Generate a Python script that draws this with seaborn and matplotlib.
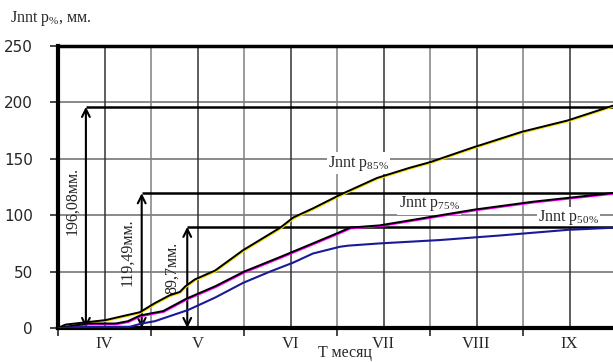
import matplotlib
matplotlib.use("Agg")
import matplotlib.pyplot as plt
import matplotlib.transforms as mtransforms
import seaborn as sns

# month fractions from start of April
p85_x = [0, 0.08, 0.29, 0.51, 0.72, 0.88, 1.04, 1.20, 1.31, 1.37, 1.47, 1.69, 1.99, 2.17,
         2.39, 2.53, 2.74, 3.03, 3.43, 3.78, 4.00, 4.46, 4.99, 5.48, 6.0]
p85_y = [0, 3, 5, 7, 11, 14, 22, 29, 32, 37, 43, 51, 69, 78,
         89, 98, 106, 118, 133, 142, 147, 160, 174, 184, 198]

p75_x = [0, 0.08, 0.32, 0.62, 0.75, 0.88, 1.00, 1.13, 1.38, 1.69, 2.00, 2.39, 2.74, 3.03,
         3.14, 3.46, 3.97, 4.48, 5.11, 6.0]
p75_y = [0, 1, 4, 4, 6, 11, 13, 15, 26, 37, 50, 63, 75, 85,
         89, 91, 98, 105, 112, 120]

p50_x = [0, 0.32, 0.77, 0.90, 1.04, 1.40, 1.69, 1.99, 2.28, 2.53, 2.74, 3.03, 3.12, 3.46,
         4.11, 4.75, 5.48, 6.0]
p50_y = [0, 1, 1, 4, 6, 16, 27, 40, 50, 58, 66, 72, 73, 75,
         78, 82, 87, 89]

months = ["IV", "V", "VI", "VII", "VIII", "IX"]
yticks = [0, 50, 100, 150, 200, 250]

# marked totals: (value, arrow x, label, label x, label y)
marks = [(196.08, 0.30, "196,08мм.", 0.15, 113),
         (119.49, 0.90, "119,49мм.", 0.75, 67),
         (89.7, 1.39, "89,7мм.", 1.23, 53)]

sns.set_style("white")
plt.rcParams["font.family"] = ["Liberation Serif", "DejaVu Serif"]
plt.rcParams["mathtext.fontset"] = "custom"
plt.rcParams["mathtext.rm"] = "Liberation Serif"

fig = plt.figure(figsize=(6.13, 3.62), dpi=100)
ax = fig.add_axes([58 / 613, 34 / 362, 558 / 613, 282 / 362])

# grid
for v in [50, 100, 150, 200]:
    ax.axhline(v, color="0.5", lw=1.3, zorder=1)
for i in range(1, 12):
    ax.axvline(i * 0.5, color="0.2" if i % 2 else "0.5", lw=1.1, zorder=1)

# marked levels
for val, xa, lab, xl, yl in marks:
    ax.hlines(val, xa, 6, color="black", lw=1.8, zorder=3)
    ax.annotate("", xy=(xa, val), xytext=(xa, 0),
                arrowprops=dict(arrowstyle="<->", color="black", lw=1.5,
                                shrinkA=0, shrinkB=0, mutation_scale=14), zorder=3)
    ax.text(xl, yl, lab, rotation=90, ha="center", va="center", fontsize=11.5,
            zorder=4, family=["Liberation Serif", "DejaVu Serif"])

shift = mtransforms.offset_copy(ax.transData, fig=fig, x=0.5, y=-0.7, units="points")
sns.lineplot(x=p85_x, y=p85_y, ax=ax, color="#f0e000", lw=1.2, transform=shift, zorder=5)
sns.lineplot(x=p85_x, y=p85_y, ax=ax, color="black", lw=1.4, zorder=6)
sns.lineplot(x=p75_x, y=p75_y, ax=ax, color="#ff00ff", lw=1.2, transform=shift, zorder=5)
sns.lineplot(x=p75_x, y=p75_y, ax=ax, color="black", lw=1.4, zorder=6)
sns.lineplot(x=p50_x, y=p50_y, ax=ax, color="#1a1a99", lw=1.5, zorder=6)

box = dict(facecolor="white", edgecolor="none", pad=1)
ax.text(3.23, 146, r"Jnnt p$_{\mathrm{85\%}}$", ha="center", va="center", fontsize=11.5, bbox=box, zorder=2)
ax.text(3.99, 110, r"Jnnt p$_{\mathrm{75\%}}$", ha="center", va="center", fontsize=11.5, bbox=box, zorder=2)
ax.text(5.49, 98, r"Jnnt p$_{\mathrm{50\%}}$", ha="center", va="center", fontsize=11.5, bbox=box, zorder=2)

ax.set_xlim(0, 6)
ax.set_ylim(0, 250)
ax.set_xticks(range(0, 7))
ax.set_xticklabels([])
ax.set_xticks([i + 0.5 for i in range(6)], minor=True)
ax.set_xticklabels(months, minor=True, fontsize=12)
ax.tick_params(axis="x", which="major", length=6, width=1.2, direction="out", bottom=True)
ax.tick_params(axis="x", which="minor", length=0, pad=6)
ax.set_yticks(yticks)
ax.set_yticklabels([str(v) for v in yticks], family="DejaVu Sans", fontsize=11, color="0.15")
ax.tick_params(axis="y", length=6, width=1.2, direction="out", left=True, pad=12)

for s in ["left", "bottom"]:
    ax.spines[s].set_linewidth(3)
    ax.spines[s].set_color("black")
ax.spines["top"].set_linewidth(2.5)
ax.spines["top"].set_color("black")
ax.spines["right"].set_visible(False)

fig.text(10 / 613, 1 - 18 / 362, r"Jnnt p$_{\%}$, мм.", fontsize=11.5, va="center", ha="left")
fig.text(345 / 613, 1 - 353 / 362, "T месяц", fontsize=11.5, va="center", ha="center")

fig.savefig("out.png", dpi=100)
